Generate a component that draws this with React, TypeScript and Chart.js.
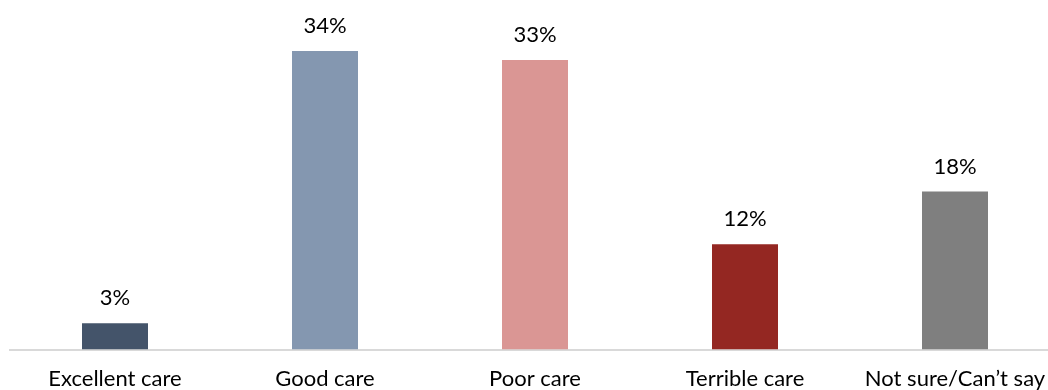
import React, { useEffect, useRef } from "react";
import { Chart, registerables } from "chart.js";

Chart.register(...registerables);

const categories = ["Excellent care", "Good care", "Poor care", "Terrible care", "Not sure/Can\u2019t say"];
const shares = [3, 34, 33, 12, 18];
const barColors = ["#44546A", "#8497B0", "#DA9694", "#942722", "#7F7F7F"];

const FONT = "Lato, 'Open Sans', sans-serif";

// Writes the percentage above each bar.
const valueLabels = {
  id: "valueLabels",
  afterDatasetsDraw(chart: any) {
    const { ctx } = chart;
    const meta = chart.getDatasetMeta(0);
    ctx.save();
    ctx.font = `22px ${FONT}`;
    ctx.fillStyle = "#000000";
    ctx.textAlign = "center";
    ctx.textBaseline = "alphabetic";
    meta.data.forEach((bar: any, i: number) => {
      ctx.fillText(`${shares[i]}%`, bar.x, bar.y - 18);
    });
    ctx.restore();
  },
};

export default function App() {
  const canvasRef = useRef<HTMLCanvasElement | null>(null);

  useEffect(() => {
    if (!canvasRef.current) return;
    const chart = new Chart(canvasRef.current, {
      type: "bar",
      data: {
        labels: categories,
        datasets: [
          {
            data: shares,
            backgroundColor: barColors,
            borderWidth: 0,
            barPercentage: 66 / 210,
            categoryPercentage: 1,
          },
        ],
      },
      options: {
        animation: false,
        responsive: false,
        devicePixelRatio: 1,
        layout: { padding: { left: 10, right: 10, top: 16, bottom: -18 } },
        plugins: { legend: { display: false }, tooltip: { enabled: false } },
        scales: {
          x: {
            grid: { display: false, drawTicks: false },
            border: { display: true, color: "#D9D9D9", width: 2 },
            ticks: {
              color: "#000000",
              font: { family: FONT, size: 22 },
              padding: 16,
              maxRotation: 0,
              autoSkip: false,
            },
          },
          y: {
            display: false,
            min: 0,
            max: 38,
          },
        },
      },
      plugins: [valueLabels],
    });
    return () => chart.destroy();
  }, []);

  return (
    <div
      style={{
        position: "absolute",
        left: 0,
        top: 0,
        width: 1048,
        height: 390,
        overflow: "hidden",
        background: "#ffffff",
      }}
    >
      <canvas ref={canvasRef} width={1070} height={390} style={{ display: "block" }} />
    </div>
  );
}
